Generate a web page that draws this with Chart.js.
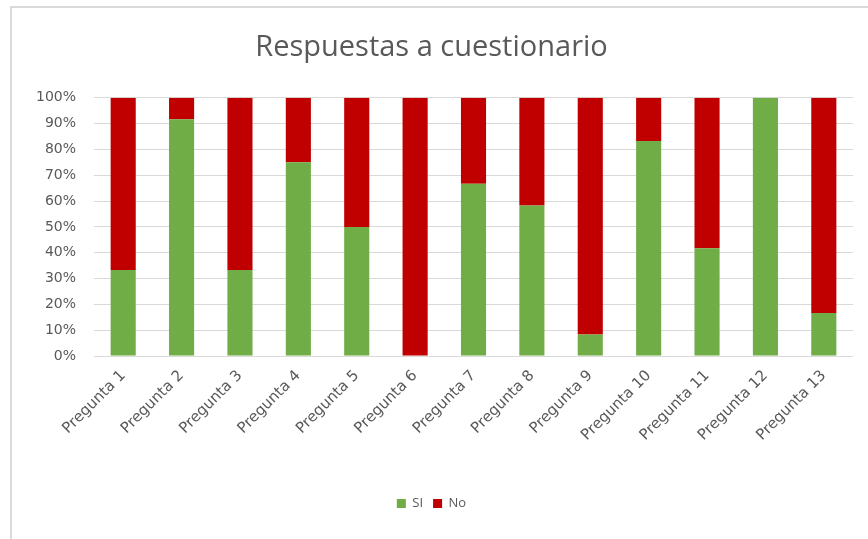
<!DOCTYPE html>
<html>
<head>
<meta charset="utf-8">
<script src="https://cdn.jsdelivr.net/npm/chart.js@4"></script>
<style>
    html, body { margin: 0; padding: 0; background: #fff; }
    #wrap { position: relative; width: 868px; height: 539px; }
    #frame { position: absolute; left: 10px; top: 6px; right: 0; bottom: 0;
             border-left: 2px solid #d9d9d9; border-top: 2px solid #d9d9d9; }
    canvas { position: absolute; left: 0; top: 0; }
</style>
</head>
<body>
<div id="wrap">
    <div id="frame"></div>
    <canvas id="respChart" width="868" height="539"></canvas>
</div>
<script>
// Categories and percentages per question
const preguntas = ['Pregunta 1', 'Pregunta 2', 'Pregunta 3', 'Pregunta 4', 'Pregunta 5',
    'Pregunta 6', 'Pregunta 7', 'Pregunta 8', 'Pregunta 9', 'Pregunta 10',
    'Pregunta 11', 'Pregunta 12', 'Pregunta 13'];
const siValues = [33.3, 91.7, 33.3, 75, 50, 0, 66.7, 58.3, 8.3, 83.3, 41.7, 100, 16.7];
const noValues = [66.7, 8.3, 66.7, 25, 50, 100, 33.3, 41.7, 91.7, 16.7, 58.3, 0, 83.3];
const yTicks = [0, 10, 20, 30, 40, 50, 60, 70, 80, 90, 100];

const textColor = '#595959';
const fontFamily = '"Open Sans", "Liberation Sans", sans-serif';
const tickFont = '"DejaVu Sans", sans-serif';

const ctx = document.getElementById('respChart').getContext('2d');
new Chart(ctx, {
    type: 'bar',
    data: {
        labels: preguntas,
        datasets: [
            { label: 'SI', data: siValues, backgroundColor: '#70AD47' },
            { label: 'No', data: noValues, backgroundColor: '#C00000' }
        ]
    },
    options: {
        responsive: false,
        animation: false,
        layout: { padding: { left: 10, right: 15, top: 30, bottom: 19 } },
        datasets: { bar: { barPercentage: 1, categoryPercentage: 0.43 } },
        plugins: {
            title: {
                display: true,
                text: 'Respuestas a cuestionario',
                color: textColor,
                font: { family: fontFamily, size: 29, weight: 'normal' },
                padding: { top: 0, bottom: 33 }
            },
            legend: {
                position: 'bottom',
                labels: {
                    color: textColor,
                    boxWidth: 9,
                    boxHeight: 9,
                    padding: 10,
                    font: { family: fontFamily, size: 13 }
                }
            },
            tooltip: { enabled: false }
        },
        scales: {
            x: {
                stacked: true,
                grid: { display: false },
                border: { display: false },
                ticks: {
                    color: textColor,
                    maxRotation: 45,
                    minRotation: 45,
                    font: { family: tickFont, size: 15 }
                },
                afterFit: function(scale) { scale.height = 131; }
            },
            y: {
                stacked: true,
                min: 0,
                max: 100,
                grid: { color: '#d9d9d9', drawTicks: false },
                border: { display: false },
                afterBuildTicks: function(scale) {
                    scale.ticks = yTicks.map(v => ({ value: v }));
                },
                ticks: {
                    color: textColor,
                    padding: 18,
                    font: { family: tickFont, size: 14 },
                    callback: function(value) { return value + '%'; }
                },
                afterFit: function(scale) { scale.width = 84; }
            }
        }
    }
});
</script>
</body>
</html>
